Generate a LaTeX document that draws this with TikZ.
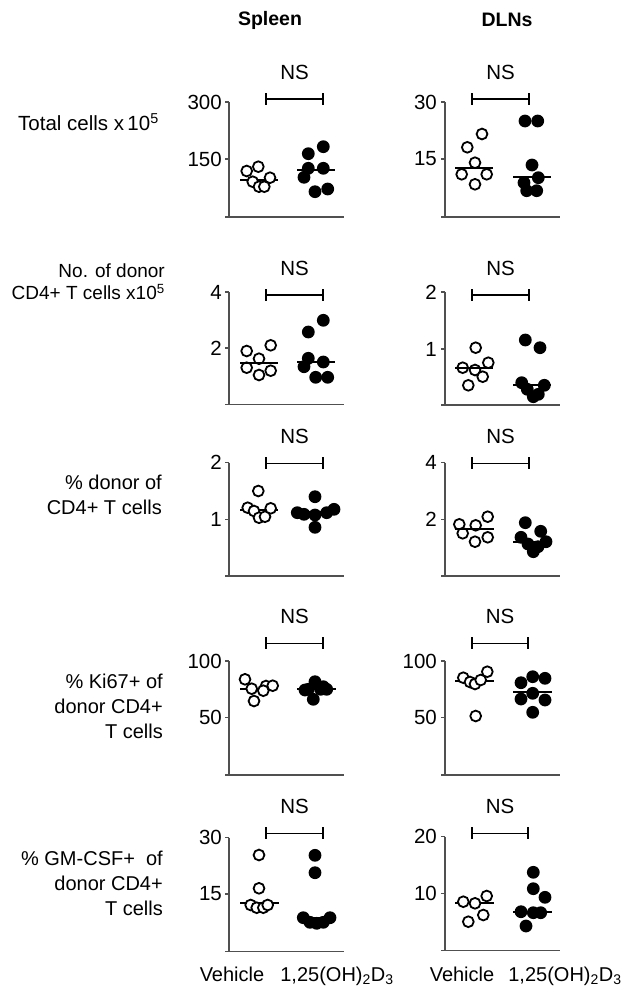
\documentclass[tikz,border=0pt]{standalone}
\usepackage{fontspec}
\setmainfont{Liberation Sans}
\definecolor{axisgray}{HTML}{505050}
\tikzset{
  axisline/.style={draw=axisgray, line width=1.3pt},
  bracketline/.style={draw=black, line width=1.4pt},
  medianline/.style={draw=black, line width=2pt},
  opendot/.style={draw=black, line width=1.8pt, fill=white},
  fulldot/.style={fill=black},
  lbl/.style={font=\fontsize{20}{24}\selectfont, inner sep=0pt},
  ticklbl/.style={font=\fontsize{20.5}{24}\selectfont, inner sep=0pt, anchor=east},
  rowlbl/.style={font=\fontsize{20}{25}\selectfont, inner sep=0pt, align=right, anchor=east},
}
\newcommand\axesbox[5]{% axis x, top y, mid y, bottom y, right x
  \draw[axisline] (#1,#2) -- (#1,#4) -- (#5,#4);
  \draw[axisline] (#1-4,#4) -- (#1,#4);
  \draw[axisline] (#1-4,#2) -- (#1,#2);
  \draw[axisline] (#1-4,#3) -- (#1,#3);}
\newcommand\nsbar[4]{% x1, x2, y, name
  \draw[bracketline] (#1,#3) -- (#2,#3);
  \draw[bracketline] (#1,#3-6) -- (#1,#3+6);
  \draw[bracketline] (#2,#3-6) -- (#2,#3+6);
  \node[lbl, font=\fontsize{20.5}{24}\selectfont] (#4) at ({(#1+#2)/2},#3-27) {NS};}
\newcommand\od[2]{\draw[opendot] (#1,#2) circle (5.4);}
\newcommand\fd[2]{\fill[fulldot] (#1,#2) circle (6.4);}
\newcommand\med[3]{\draw[medianline] (#1,#3) -- (#2,#3);}
\begin{document}
\begin{tikzpicture}[x=1pt,y=-1pt]
\useasboundingbox (0,0) rectangle (629,990);
% headers
\node[lbl, font=\fontsize{19.5}{24}\selectfont\bfseries] (hsp) at (270,20) {Spleen};
\node[lbl, font=\fontsize{19.5}{24}\selectfont\bfseries] (hdl) at (507,20) {DLNs};
% row labels
\node[rowlbl, font=\fontsize{20.5}{25}\selectfont] (r1) at (159,122) {Total cells x\,10\textsuperscript{5}};
\node[rowlbl, font=\fontsize{19}{22}\selectfont] (r2) at (165,282) {No. of donor\\CD4+ T cells x10\textsuperscript{5}};
\node[rowlbl] (r3) at (162,495) {\% donor of\\CD4+ T cells};
\node[rowlbl] (r4) at (163,706) {\% Ki67+ of\\donor CD4+\\T cells};
\node[rowlbl] (r5) at (163,883) {\% GM-CSF+\ \ of\\donor CD4+\\T cells};
% ===== Row 1 =====
\axesbox{229}{102}{159}{217}{344}
\node[ticklbl] (t1a) at (222,102) {300};
\node[ticklbl] (t1b) at (222,159) {150};
\nsbar{266}{323}{99}{ns1}
\med{240}{278}{180}
\od{246.7}{171}\od{258.3}{166.7}\od{252.7}{181.7}\od{259}{186.7}\od{264.3}{186.7}\od{270}{177.7}
\med{297}{335}{170}
\fd{308.3}{153.7}\fd{323.3}{146.7}\fd{308.3}{168.3}\fd{323.3}{168.3}\fd{304}{177.3}\fd{315}{191.7}\fd{327.7}{189}
\axesbox{445}{102}{159}{217}{560}
\node[ticklbl] (t2a) at (437,102) {30};
\node[ticklbl] (t2b) at (437,159) {15};
\nsbar{472}{529}{99}{ns2}
\med{455}{493}{167.7}
\od{482}{134}\od{467.3}{147.3}\od{475}{162.7}\od{461.7}{174.3}\od{486.7}{174.3}\od{475}{184.3}
\med{513}{551}{177.3}
\fd{525}{121}\fd{537.7}{121}\fd{532}{165}\fd{524}{182.7}\fd{538.3}{177.7}\fd{526.7}{190.7}\fd{536.7}{190.7}
% ===== Row 2 =====
\axesbox{229}{292}{348}{404.5}{344}
\node[ticklbl] (t3a) at (222,292) {4};
\node[ticklbl] (t3b) at (222,348) {2};
\nsbar{266}{323}{295}{ns3}
\od{246.7}{351}\od{270.7}{345.3}\od{259}{358.7}\od{246.7}{367.7}\od{259}{375}\od{270.7}{370.7}
\med{240}{278}{363.3}
\fd{323.3}{320.3}\fd{308.3}{332}\fd{308.3}{358.3}\fd{304}{366.7}\fd{323.3}{362}\fd{315.7}{377.3}\fd{327.7}{377.3}
\med{297}{335}{361.7}
\axesbox{445}{292}{349}{405}{560}
\node[ticklbl] (t4a) at (437,292) {2};
\node[ticklbl] (t4b) at (437,349) {1};
\nsbar{472}{529}{295}{ns4}
\od{475.7}{347.7}\od{462.7}{367.7}\od{488.3}{362.7}\od{475}{370}\od{482.7}{376.7}\od{468.3}{385.3}
\med{455}{493}{367.7}
\fd{525.3}{340}\fd{540}{347.7}\fd{521.7}{382.7}\fd{544.3}{385.3}\fd{527.3}{389.3}\fd{538.3}{394.3}\fd{533.3}{396.7}
\med{513}{551}{385}
% ===== Row 3 =====
\axesbox{229}{462.7}{519.3}{576}{344}
\node[ticklbl] (t5a) at (222,462.7) {2};
\node[ticklbl] (t5b) at (222,519.3) {1};
\nsbar{266}{323}{463.3}{ns5}
\med{240}{278}{510}
\od{258.3}{491}\od{247.7}{507.7}\od{254}{511}\od{259}{517.7}\od{265}{516.7}\od{270.7}{508.3}
\fd{315}{496.7}\fd{297.3}{512.7}\fd{304}{514.3}\fd{315}{515}\fd{326.7}{512.7}\fd{334}{509.3}\fd{315}{527.3}
\med{297}{336}{512}
\axesbox{445}{462.7}{519.3}{576}{560}
\node[ticklbl] (t6a) at (437,462.7) {4};
\node[ticklbl] (t6b) at (437,519.3) {2};
\nsbar{472}{529}{463.3}{ns6}
\od{487.7}{516.7}\od{459.3}{524.3}\od{475.7}{525.3}\od{462.7}{533.3}\od{487.7}{537.3}\od{475}{541.7}
\med{455}{494}{529}
\fd{525.3}{522.7}\fd{540.7}{531.3}\fd{521}{537.3}\fd{528}{544}\fd{546}{541.7}\fd{533.3}{551.7}\fd{538}{546.7}
\draw[white, line width=1pt] (530,542.3) -- (536,542.3);
\med{513}{552}{542.3}
% ===== Row 4 =====
\axesbox{229}{661}{717.7}{775}{344}
\node[ticklbl] (t7a) at (222,661) {100};
\node[ticklbl] (t7b) at (222,717.7) {50};
\nsbar{266}{323}{643.3}{ns7}
\med{240}{277}{688.7}
\od{245}{679.3}\od{251.7}{688.7}\od{266}{686}\od{263.3}{690.7}\od{272.7}{685.7}\od{254}{701}
\fd{315}{681.7}\fd{308.3}{689.3}\fd{320.7}{689.3}\fd{326.7}{689.3}\fd{313.3}{699.3}\fd{305}{690}\fd{323.3}{686.7}
\med{297}{336}{689.3}
\axesbox{445}{661}{717.7}{775}{560}
\node[ticklbl] (t8a) at (437,661) {100};
\node[ticklbl] (t8b) at (437,717.7) {50};
\nsbar{472}{528}{643.3}{ns8}
\med{455}{494}{681}
\od{463.3}{677.7}\od{470}{682}\od{475}{684}\od{480.7}{680}\od{487.3}{671.7}\od{475.7}{716}
\fd{521}{682.7}\fd{532.7}{676.7}\fd{545}{678.3}\fd{521}{699}\fd{532.7}{693.3}\fd{545}{700}\fd{532.7}{712.3}
\med{513}{552}{692.3}
% ===== Row 5 =====
\axesbox{229}{837.7}{894}{951.5}{344}
\node[ticklbl] (t9a) at (222,837.7) {30};
\node[ticklbl] (t9b) at (222,894) {15};
\nsbar{266}{323}{833.3}{ns9}
\med{240}{279}{903.3}
\od{259}{855}\od{259}{888.3}\od{250.7}{905}\od{256.7}{907.7}\od{263.3}{907.7}\od{267.7}{905}
\fd{315}{855.3}\fd{315}{872.7}\fd{303.3}{917.7}\fd{310}{922.3}\fd{316.7}{923.3}\fd{323.3}{922.3}\fd{330}{917.7}
\med{297}{336}{918.3}
\axesbox{445}{836.7}{893.3}{950.7}{560}
\node[ticklbl] (t10a) at (437,836.7) {20};
\node[ticklbl] (t10b) at (437,893.3) {10};
\nsbar{472}{528}{833.3}{ns10}
\med{455}{494}{902.7}
\od{463.3}{901.7}\od{475}{903.3}\od{486.7}{896}\od{468.3}{921.7}\od{483.3}{915}
\fd{533.3}{872.3}\fd{533.3}{888.7}\fd{545}{897.3}\fd{521}{911.7}\fd{533.3}{912.7}\fd{540.7}{912.7}\fd{526}{926}
\med{513}{552}{911.7}
% x labels
\node[lbl, anchor=base] (v1) at (232,981) {Vehicle};
\node[lbl, anchor=base] (d1) at (337,981) {1,25(OH)\textsubscript{2}D\textsubscript{3}};
\node[lbl, anchor=base] (v2) at (462,981) {Vehicle};
\node[lbl, anchor=base] (d2) at (565,981) {1,25(OH)\textsubscript{2}D\textsubscript{3}};
\end{tikzpicture}
\end{document}
